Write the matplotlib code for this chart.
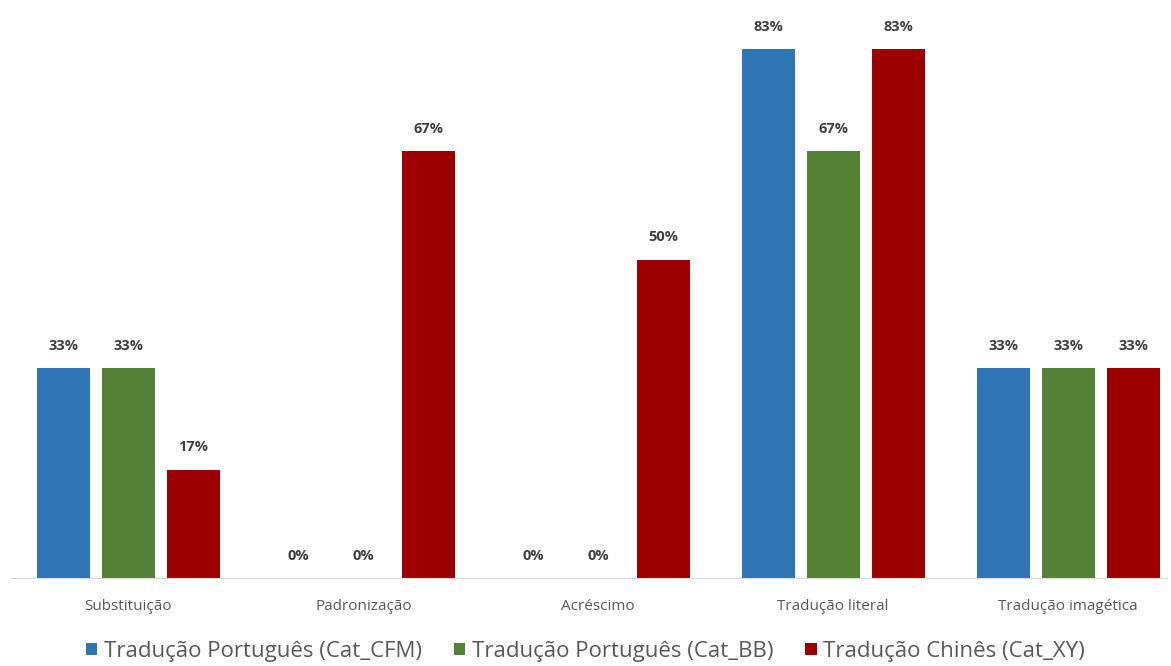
import matplotlib
matplotlib.use("Agg")
import matplotlib.pyplot as plt
import numpy as np

categories = ["Substituição", "Padronização", "Acréscimo", "Tradução literal", "Tradução imagética"]
series_names = ["Tradução Português (Cat_CFM)", "Tradução Português (Cat_BB)", "Tradução Chinês (Cat_XY)"]
cat_cfm = [33, 0, 0, 83, 33]
cat_bb = [33, 0, 0, 67, 33]
cat_xy = [17, 67, 50, 83, 33]
colors = ["#2E75B6", "#538135", "#9C0000"]

plt.rcParams["font.family"] = ["Open Sans", "DejaVu Sans"]


def main():
    fig = plt.figure(figsize=(11.71, 6.66), dpi=100)
    ax = fig.add_axes([0.0094, 0.132, 0.987, 0.861])

    x = np.arange(len(categories))
    width = 0.226
    step = 0.277
    for i, (vals, name, c) in enumerate(zip([cat_cfm, cat_bb, cat_xy], series_names, colors)):
        pos = x + (i - 1) * step
        bars = ax.bar(pos, vals, width, color=c, label=name)
        for b, v in zip(bars, vals):
            ax.text(b.get_x() + b.get_width() / 2, v + 2.4, f"{v}%", ha="center", va="bottom",
                    fontsize=10.5, fontweight="bold", color="#404040")

    ax.set_xlim(-0.5, 4.42)
    ax.set_ylim(0, 90)
    ax.set_yticks([])
    ax.set_xticks(x)
    ax.set_xticklabels(categories, fontsize=11, color="#595959")
    ax.tick_params(axis="x", length=0, pad=15)
    for s in ["top", "right", "left"]:
        ax.spines[s].set_visible(False)
    ax.spines["bottom"].set_color("#D9D9D9")

    fig.legend(loc="lower center", bbox_to_anchor=(0.5, -0.024), ncol=3, frameon=False,
               fontsize=16, handlelength=0.5, handleheight=0.5, handletextpad=0.3,
               columnspacing=1.45, labelcolor="#595959")

    fig.savefig("out.png", dpi=100)


if __name__ == "__main__":
    main()
